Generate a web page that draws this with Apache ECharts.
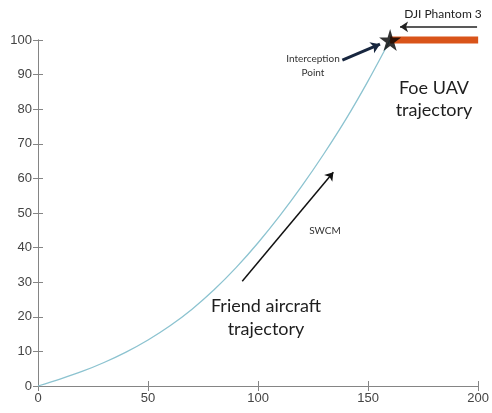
<!DOCTYPE html>
<html><head><meta charset="utf-8">
<script src="https://cdn.jsdelivr.net/npm/echarts@6/dist/echarts.min.js"></script>
<style>html,body{margin:0;padding:0;background:#fff}#c{width:492px;height:413px}</style>
</head><body><div id="c"></div>
<script>
const xTicks = [0, 50, 100, 150, 200];
const yTicks = [0, 10, 20, 30, 40, 50, 60, 70, 80, 90, 100];
const friendX = [0, 10, 20, 30, 40, 50, 60, 70, 80, 90, 100, 110, 120, 130, 140, 150, 160];
const friendY = [0, 2, 4.2, 6.8, 9.8, 13.3, 17.4, 22.2, 27.8, 34.2, 41.4, 49.3, 57.9, 67.2, 77.2, 88.2, 100];
const foeX = [160, 200];
const foeY = [100, 100];
const interceptPoint = [160, 100];
const swcmArrow = [[92.8, 30.3], [134.2, 61.8]];
const interceptArrow = [[138.3, 94.2], [155.4, 98.8]];
const phantomArrow = [[199.5, 103.8], [164.5, 103.8]];

const chart = echarts.init(document.getElementById('c'));
const axisCol = '#858585';
const labelCol = '#444';
const tickFont = "'Liberation Sans', Arial, sans-serif";
const starPath = 'path://M50,0 L61,35 L98,35 L68,57 L79,91 L50,70 L21,91 L32,57 L2,35 L39,35 Z';
const annFont = 'Lato, "Open Sans", sans-serif';

function axisCommon(extra) {
  return Object.assign({
    type: 'value',
    axisLine: { show: true, lineStyle: { color: axisCol, width: 1 } },
    axisTick: { show: true, inside: true, length: 5, lineStyle: { color: axisCol } },
    splitLine: { show: false }
  }, extra);
}

chart.setOption({
  animation: false,
  grid: { left: 38, right: 10, top: 40, bottom: 27 },
  xAxis: [
    axisCommon({ min: xTicks[0], max: xTicks[xTicks.length - 1], interval: 50,
      axisLabel: { color: labelCol, fontSize: 13, fontFamily: tickFont, margin: 6 } }),
    axisCommon({ min: xTicks[0], max: xTicks[xTicks.length - 1], interval: 50, position: 'top',
      axisLabel: { show: false } })
  ],
  yAxis: [
    axisCommon({ min: yTicks[0], max: yTicks[yTicks.length - 1], interval: 10,
      axisLabel: { color: labelCol, fontSize: 13, fontFamily: tickFont, margin: 6 } }),
    axisCommon({ min: yTicks[0], max: yTicks[yTicks.length - 1], interval: 10, position: 'right',
      axisLabel: { show: false } })
  ],
  series: [
    { type: 'line', name: 'friend', smooth: 0.3, symbol: 'none', clip: false,
      data: friendX.map((x, i) => [x, friendY[i]]),
      lineStyle: { color: '#8cc3d0', width: 1.3 }, z: 3 },
    { type: 'line', name: 'foe', symbol: 'none', clip: false,
      data: foeX.map((x, i) => [x, foeY[i]]),
      lineStyle: { color: '#d9541a', width: 7, cap: 'butt' }, z: 4 },
    { type: 'scatter', name: 'intercept', symbol: starPath, symbolSize: 22,
      itemStyle: { color: '#000' }, data: [interceptPoint], z: 6, clip: false },
    { type: 'lines', coordinateSystem: 'cartesian2d', clip: false, z: 5,
      symbol: ['none', 'arrow'], symbolSize: 8,
      data: [
        { coords: swcmArrow, lineStyle: { color: '#111', width: 1.5, opacity: 1 } },
        { coords: interceptArrow, lineStyle: { color: '#17263f', width: 3, opacity: 1 }, symbolSize: 9 },
        { coords: phantomArrow, lineStyle: { color: '#222', width: 1.5, opacity: 1 } }
      ] }
  ],
  graphic: [
    { type: 'text', x: 443, y: 14, style: { text: 'DJI Phantom 3', fill: '#222', font: '12px ' + annFont, textAlign: 'center', textVerticalAlign: 'middle' } },
    { type: 'text', x: 313, y: 66, style: { text: 'Interception\nPoint', fill: '#333', font: '10px ' + annFont, textAlign: 'center', textVerticalAlign: 'middle', lineHeight: 14 } },
    { type: 'text', x: 434, y: 99, style: { text: 'Foe UAV\ntrajectory', fill: '#1e1e1e', font: '18px ' + annFont, textAlign: 'center', textVerticalAlign: 'middle', lineHeight: 22 } },
    { type: 'text', x: 325, y: 231, style: { text: 'SWCM', fill: '#333', font: '10px ' + annFont, textAlign: 'center', textVerticalAlign: 'middle' } },
    { type: 'text', x: 266, y: 318, style: { text: 'Friend aircraft\ntrajectory', fill: '#1e1e1e', font: '18px ' + annFont, textAlign: 'center', textVerticalAlign: 'middle', lineHeight: 23 } }
  ]
});
</script></body></html>
